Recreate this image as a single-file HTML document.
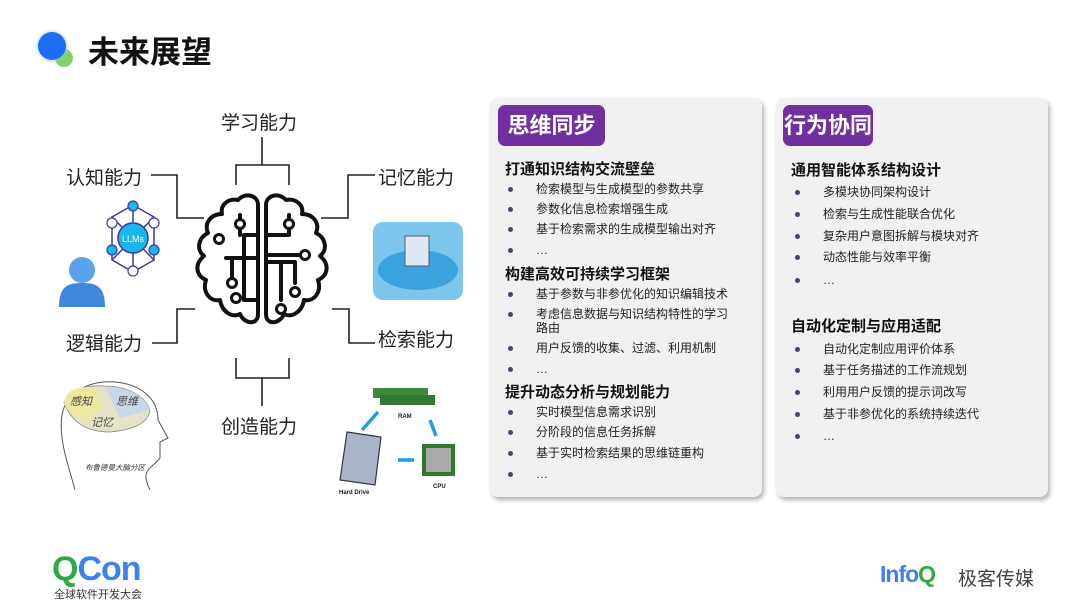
<!DOCTYPE html>
<html><head><meta charset="utf-8"><style>
*{margin:0;padding:0;box-sizing:border-box}
body{width:1080px;height:605px;background:#fff;position:relative;overflow:hidden;font-family:"Liberation Sans","Noto Sans CJK SC",sans-serif;color:#111}
.a{position:absolute;white-space:nowrap}
.title{left:88px;top:27px;font-size:31px;font-weight:bold;color:#111}
.lbl{font-size:19px;color:#222}
.panel{position:absolute;top:98px;width:272px;height:399px;background:#f1f1f2;border-radius:8px;box-shadow:2px 3px 5px rgba(0,0,0,.3)}
.tag{position:absolute;top:7px;height:41px;background:#7030a0;border-radius:7px;color:#fff;font-size:22px;font-weight:bold;text-align:center;line-height:41px}
.h{position:absolute;font-size:15px;font-weight:bold;color:#111;white-space:nowrap}
.b{position:absolute;font-size:12px;color:#222;white-space:nowrap;line-height:14px}
.b:before{content:"";position:absolute;left:-28px;top:5px;width:5px;height:5px;border-radius:50%;background:#3a4a6a}
</style></head><body>
<div class="a" style="left:38px;top:32px;width:28px;height:28px;border-radius:50%;background:#1f6cf5;box-shadow:0 0 4px #9bd"></div>
<div class="a" style="left:55px;top:49px;width:18px;height:18px;border-radius:50%;background:#7ed46a;z-index:-1"></div>
<div class="a title">未来展望</div>

<svg class="a" style="left:0;top:0" width="490" height="510" viewBox="0 0 490 510" fill="none" stroke="#222" stroke-width="1.6">
<path d="M262 137V165M236 185V165H289V185"/>
<path d="M151 175H177V218H204"/>
<path d="M375 175H348V218H321"/>
<path d="M195 309H177V343H152"/>
<path d="M332 309H349V343H375"/>
<path d="M236 358V378H289V358M262 378V406"/>
<g stroke="#111" stroke-width="4" stroke-linecap="round" stroke-linejoin="round">
<path d="M258 205C258 195 245 192 238 200C228 198 220 205 222 214C210 214 204 224 208 233C198 238 196 250 204 256C194 264 196 276 206 280C202 292 210 302 220 300C222 312 232 318 240 314C244 324 258 326 258 314Z"/>
<path d="M266 205C266 195 279 192 286 200C296 198 304 205 302 214C314 214 320 224 316 233C326 238 328 250 320 256C330 264 328 276 318 280C322 292 314 302 304 300C302 312 292 318 284 314C280 324 266 326 266 314Z"/>
<path d="M258 235H244V300H258M258 258H226M240 215V235M232 258V283"/>
<path d="M266 235H289V215M266 255H302M266 262H295V283M281 262V300"/>
</g>
<g fill="#fff" stroke="#111" stroke-width="3">
<circle cx="240" cy="224" r="4.5"/><circle cx="219" cy="239" r="4.5"/><circle cx="232" cy="283" r="4.5"/>
<circle cx="289" cy="224" r="4.5"/><circle cx="305" cy="255" r="4.5"/><circle cx="295" cy="292" r="4.5"/><circle cx="281" cy="309" r="4.5"/><circle cx="236" cy="298" r="4.5"/>
</g>
<g stroke="#3a3aa0" stroke-width="1.5">
<path d="M133 205L154 217V260L133 272L112 260V217Z"/><path d="M133 205V272M112 217L154 260M154 217L112 260"/>
</g>
<circle cx="133" cy="238" r="15" fill="#19b5ec" stroke="#3a3aa0" stroke-width="1.5"/>
<g fill="#19b5ec" stroke="#3a3aa0" stroke-width="1.2"><circle cx="133" cy="206" r="5"/><circle cx="154" cy="250" r="5"/><circle cx="112" cy="250" r="5"/></g>
<g fill="#fff" stroke="#3a3aa0" stroke-width="1.2"><circle cx="112" cy="223" r="5"/><circle cx="154" cy="223" r="5"/><circle cx="133" cy="271" r="5"/></g>
<text x="133" y="242" font-size="9" fill="#fff" stroke="none" text-anchor="middle" font-family="Liberation Sans">LLMs</text>
<circle cx="82" cy="270" r="13" fill="#5aa3ea" stroke="none"/>
<path d="M59 307C59 286 68 283 82 283C96 283 105 286 105 307Z" fill="#3f86dc" stroke="none"/>
<rect x="373" y="222" width="90" height="78" rx="10" fill="#7cc6ee" stroke="none"/>
<ellipse cx="418" cy="270" rx="40" ry="20" fill="#3aa3de" stroke="none"/>
<rect x="405" y="236" width="24" height="30" fill="#dde9f4" stroke="#557" stroke-width="1"/>
<path d="M75 490C70 470 58 440 62 415C66 392 90 380 115 382C140 384 158 398 158 420L168 438L160 442V458C150 470 140 470 150 490" stroke="#555" stroke-width="1"/>
<path d="M64 402C70 388 90 385 105 386C125 386 145 395 150 410C148 425 130 430 110 432C90 432 72 425 64 402Z" fill="#e6e2c8" stroke="#888" stroke-width="0.8"/>
<path d="M64 402C66 390 78 386 95 387L102 408L86 420C74 418 66 410 64 402Z" fill="#ece8a0" stroke="none"/>
<path d="M105 387C125 386 145 395 150 410L120 418Z" fill="#c8d8e8" stroke="none"/>
<text x="70" y="405" font-size="11" fill="#444" stroke="none" font-style="italic">感知</text>
<text x="116" y="405" font-size="11" fill="#444" stroke="none" font-style="italic">思维</text>
<text x="91" y="426" font-size="11" fill="#444" stroke="none" font-style="italic">记忆</text>
<text x="85" y="470" font-size="7.5" fill="#333" stroke="none" font-style="italic">布鲁德曼大脑分区</text>
<rect x="373" y="388" width="55" height="10" fill="#3c8a3c" stroke="none"/><rect x="380" y="395" width="55" height="10" fill="#2f7a2f" stroke="none"/>
<text x="398" y="418" font-size="6" font-weight="bold" fill="#222" stroke="none">RAM</text>
<rect x="422" y="444" width="33" height="32" fill="#2a7a2a" stroke="none"/><rect x="426" y="448" width="25" height="24" fill="#aaa" stroke="none"/>
<text x="433" y="488" font-size="6" font-weight="bold" fill="#222" stroke="none">CPU</text>
<path d="M347 432L381 437L375 485L340 480Z" fill="#a9b4c6" stroke="#334" stroke-width="1.2"/>
<text x="339" y="494" font-size="6" font-weight="bold" fill="#222" stroke="none">Hard Drive</text>
<g stroke="#1f9ede" stroke-width="3.5"><path d="M362 430L378 412M430 420L436 436M414 460H398"/></g>
</svg>
<div class="a lbl" style="left:221px;top:108px">学习能力</div>
<div class="a lbl" style="left:66px;top:163px">认知能力</div>
<div class="a lbl" style="left:378px;top:163px">记忆能力</div>
<div class="a lbl" style="left:66px;top:329px">逻辑能力</div>
<div class="a lbl" style="left:378px;top:325px">检索能力</div>
<div class="a lbl" style="left:221px;top:412px">创造能力</div>

<div class="panel" style="left:490px">
<div class="tag" style="left:8px;width:107px">思维同步</div>
<div class="h" style="left:15px;top:60px">打通知识结构交流壁垒</div>
<div class="b" style="left:46px;top:84px">检索模型与生成模型的参数共享</div>
<div class="b" style="left:46px;top:104px">参数化信息检索增强生成</div>
<div class="b" style="left:46px;top:124px">基于检索需求的生成模型输出对齐</div>
<div class="b" style="left:46px;top:145px">…</div>
<div class="h" style="left:15px;top:165px">构建高效可持续学习框架</div>
<div class="b" style="left:46px;top:189px">基于参数与非参优化的知识编辑技术</div>
<div class="b" style="left:46px;top:209px">考虑信息数据与知识结构特性的学习<br>路由</div>
<div class="b" style="left:46px;top:243px">用户反馈的收集、过滤、利用机制</div>
<div class="b" style="left:46px;top:264px">…</div>
<div class="h" style="left:15px;top:283px">提升动态分析与规划能力</div>
<div class="b" style="left:46px;top:307px">实时模型信息需求识别</div>
<div class="b" style="left:46px;top:327px">分阶段的信息任务拆解</div>
<div class="b" style="left:46px;top:348px">基于实时检索结果的思维链重构</div>
<div class="b" style="left:46px;top:369px">…</div>
</div>
<div class="panel" style="left:776px">
<div class="tag" style="left:7px;width:90px">行为协同</div>
<div class="h" style="left:15px;top:61px">通用智能体系结构设计</div>
<div class="b" style="left:47px;top:87px">多模块协同架构设计</div>
<div class="b" style="left:47px;top:109px">检索与生成性能联合优化</div>
<div class="b" style="left:47px;top:131px">复杂用户意图拆解与模块对齐</div>
<div class="b" style="left:47px;top:152px">动态性能与效率平衡</div>
<div class="b" style="left:47px;top:175px">…</div>
<div class="h" style="left:15px;top:217px">自动化定制与应用适配</div>
<div class="b" style="left:47px;top:244px">自动化定制应用评价体系</div>
<div class="b" style="left:47px;top:265px">基于任务描述的工作流规划</div>
<div class="b" style="left:47px;top:287px">利用用户反馈的提示词改写</div>
<div class="b" style="left:47px;top:309px">基于非参优化的系统持续迭代</div>
<div class="b" style="left:47px;top:331px">…</div>
</div>

<div class="a" style="left:52px;top:552px;font-size:34px;font-weight:bold;letter-spacing:-1px;line-height:34px"><span style="color:#2eaa44">Q</span><span style="color:#3b82f0">Con</span></div>
<div class="a" style="left:54px;top:586px;font-size:11px;color:#333">全球软件开发大会</div>
<div class="a" style="left:880px;top:561px;font-size:23px;font-weight:bold;color:#3b82f0;letter-spacing:-1px">Info<span style="color:#2eaa44">Q</span></div>
<div class="a" style="left:958px;top:564px;font-size:19px;color:#444">极客传媒</div>
</body></html>
